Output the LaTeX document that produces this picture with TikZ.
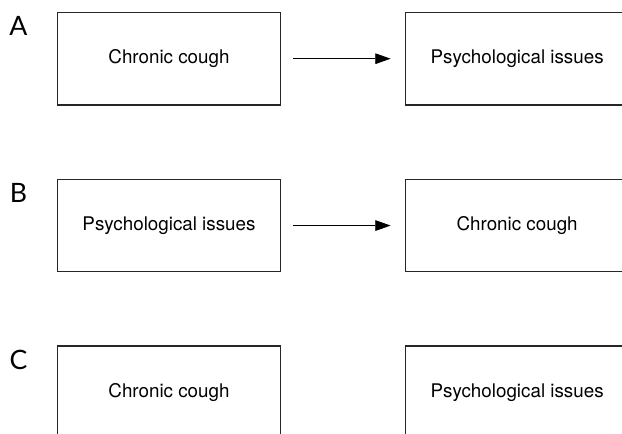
\documentclass[tikz,border=0pt]{standalone}
\usepackage{fontspec}
\setmainfont{TeX Gyre Heros}
\newfontfamily\tagfont{Lato}
\usetikzlibrary{arrows.meta,positioning}

\begin{document}
\begin{tikzpicture}[x=0.75pt, y=-0.75pt, node distance=54.75pt and 92.7pt]
    % Define styles
    \tikzstyle{box} = [rectangle, minimum width=167.5pt, minimum height=69.5pt, text centered, draw=black!85, line width=0.9pt, font=\fontsize{14.1}{16}\selectfont]
    \tikzstyle{tag} = [inner sep=0pt, font=\tagfont\fontsize{20}{22}\selectfont]
    \tikzstyle{arrow} = [line width=0.6pt, -{Triangle[length=11.5pt, width=8pt]}, shorten <=9pt, shorten >=10.7pt]

    \useasboundingbox (0,0) rectangle (622,434);
    \clip (0,0) rectangle (622,434);

    % Row A
    \node [box] (coughA) at (169,58.7) {Chronic cough};
    \node [box, right=of coughA] (psychA) {Psychological issues};

    % Row B
    \node [box, below=of coughA] (psychB) {Psychological issues};
    \node [box, right=of psychB] (coughB) {Chronic cough};

    % Row C
    \node [box, below=of psychB] (coughC) {Chronic cough};
    \node [box, right=of coughC] (psychC) {Psychological issues};

    % Panel letters
    \node [tag, xshift=-28.7pt, yshift=-10.5pt] (tagA) at (coughA.north west) {A};
    \node [tag, xshift=-28.7pt, yshift=-10.5pt] (tagB) at (psychB.north west) {B};
    \node [tag, xshift=-28.7pt, yshift=-10.5pt] (tagC) at (coughC.north west) {C};

    % Arrows
    \draw [arrow] (coughA) -- (psychA);
    \draw [arrow] (psychB) -- (coughB);
\end{tikzpicture}
\end{document}
